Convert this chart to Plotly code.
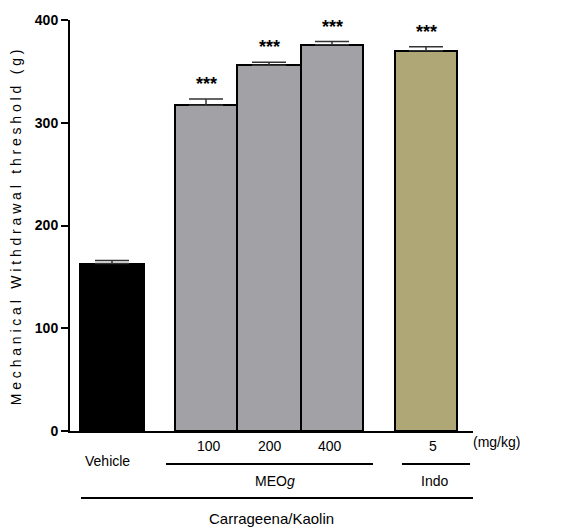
import plotly.graph_objects as go

groups = ["Vehicle", "100", "200", "400", "5"]
positions = [42, 136, 199, 262, 356]
widths = [64, 62, 64, 62, 62]
means = [163, 317, 356, 376, 370]
sem = [3, 6, 3, 3, 4]
colors = ["#000000", "#A2A1A6", "#A2A1A6", "#A2A1A6", "#B0A776"]
stars = ["", "***", "***", "***", "***"]
yticks = [0, 100, 200, 300, 400]
label_shift = [-5, 3, 1, -2, 7]   # small offsets of the dose labels relative to the bars

FONT = "Liberation Sans, Arial"

# page body has an 8px margin; compensate so the plot area lands where the reference has it
OFF = 8
L, T, W, H = 70 - OFF, 20 - OFF, 403, 411
XMAX = 403

fig = go.Figure()
fig.add_trace(go.Bar(
    x=positions, y=means, width=widths,
    marker=dict(color=colors, line=dict(color="black", width=2)),
    error_y=dict(type="data", array=sem, arrayminus=[0]*len(sem), symmetric=False,
                 color="#333333", thickness=1.5, width=17),
    showlegend=False,
))

for p, m, s, st in zip(positions, means, sem, stars):
    if st:
        fig.add_annotation(x=p, y=m + s, text="<b>" + st + "</b>", showarrow=False, yanchor="bottom",
                           yshift=3, font=dict(family=FONT, size=18, color="black"))

def ypix(py):
    return (431 - py) / 411

lab = dict(family=FONT, size=14, color="black")
def label(x, py, text, font=lab):
    fig.add_annotation(x=x / XMAX, xref="paper", y=ypix(py), yref="paper", text=text,
                       showarrow=False, xanchor="center", yanchor="middle", font=font)

for p, g, d in zip(positions[1:], groups[1:], label_shift[1:]):
    label(p + d, 446, g)
label(positions[0] + label_shift[0], 461, groups[0])
label(427, 442, "(mg/kg)")
label(205, 481, "MEO<i>g</i>")
label(364, 481, "Indo")
label(201, 518, "Carrageena/Kaolin", dict(family=FONT, size=15, color="black"))

for x0, x1, py in [(96, 303, 464), (332, 400, 464), (11, 407, 498)]:
    fig.add_shape(type="line", x0=x0, x1=x1, y0=ypix(py), y1=ypix(py), xref="x", yref="paper",
                  line=dict(color="black", width=2))

fig.update_layout(
    width=570, height=529,
    margin=dict(l=L, r=570 - L - W, t=T, b=529 - T - H, autoexpand=False),
    plot_bgcolor="white", paper_bgcolor="white",
    bargap=0,
    xaxis=dict(range=[0, XMAX], showticklabels=False, ticks="", showgrid=False, zeroline=False,
               showline=True, linecolor="black", linewidth=2, automargin=False),
    yaxis=dict(range=[0, 400], tickvals=yticks, ticks="outside", ticklen=7, tickwidth=2,
               tickcolor="black", showgrid=False, zeroline=False, showline=True,
               linecolor="black", linewidth=2, automargin=False,
               tickfont=dict(family=FONT, size=14, color="black", weight="bold"),
               title=dict(text='<span style="letter-spacing:3.8px">Mechanical Withdrawal threshold (g)</span>',
                          font=dict(family=FONT, size=14, color="black"),
                          standoff=11)),
)

fig.write_html("out.html")
